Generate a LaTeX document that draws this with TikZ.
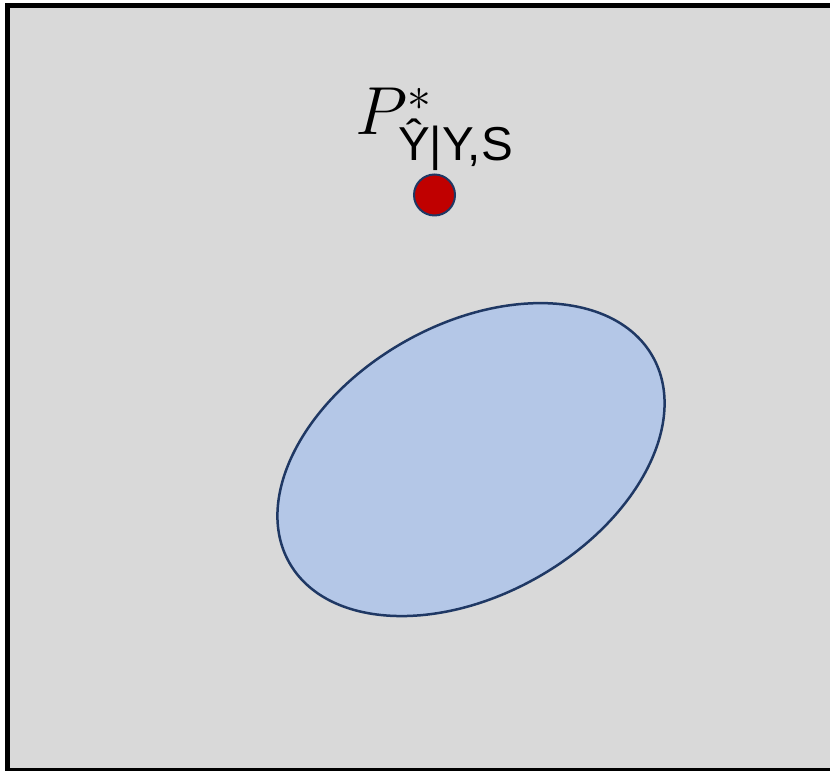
\RequirePackage{fix-cm}
\documentclass[tikz,border=0pt]{standalone}
\usepackage{amsmath}
\usepackage{fontspec}
\newfontfamily\arialfont{Liberation Sans}
\usepackage{tikz}
\usetikzlibrary{shapes.geometric}

\definecolor{panelgray}{HTML}{D9D9D9}
\definecolor{setblue}{HTML}{B4C7E7}
\definecolor{edgenavy}{HTML}{1F3864}
\definecolor{pointred}{HTML}{C00000}

\begin{document}
\begin{tikzpicture}[
    x=1pt, y=1pt,
    panel/.style={
        draw=black,
        line width=5pt,
        fill=panelgray
    },
    region/.style={
        draw=edgenavy,
        ellipse,
        line width=2.5pt,
        fill=setblue,
        inner sep=0pt
    },
    point/.style={
        draw=edgenavy,
        circle,
        line width=2pt,
        fill=pointred,
        inner sep=0pt,
        minimum size=41pt
    },
    tag/.style={
        inner sep=0pt,
        font=\fontsize{68}{80}\selectfont
    }
]
\useasboundingbox (0,0) rectangle (830,771);

% Background panel
\draw[panel] (7.8,0) rectangle (836,765.5);

% Feasible set
\node[region, rotate=29.6, minimum width=417.8pt, minimum height=270.6pt] (set) at (471,311.4) {};

% Optimum
\node[point] (opt) at (434.5,576) {};
\node[tag, anchor=base west] (optlabel) at (355,636)
    {$P^{*}_{\text{\raisebox{-9pt}{\arialfont Ŷ|Y,S}}}$};

\end{tikzpicture}
\end{document}
